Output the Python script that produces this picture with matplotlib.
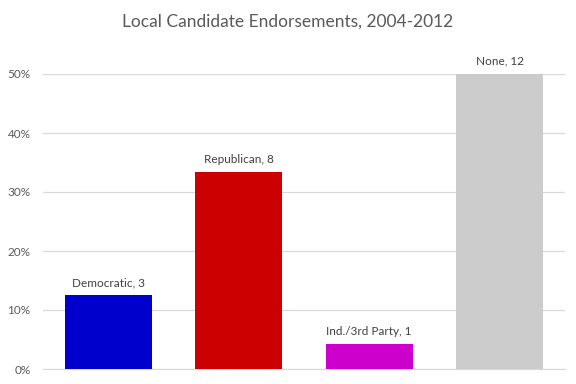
import matplotlib.pyplot as plt
from matplotlib.ticker import PercentFormatter

categories = ['Democratic', 'Republican', 'Ind./3rd Party', 'None']
counts = [3, 8, 1, 12]
colors = ['#0000CC', '#CC0000', '#CC00CC', '#CCCCCC']

total = sum(counts)
shares = [c / total for c in counts]

plt.rcParams['font.family'] = ['Lato', 'DejaVu Sans']

fig = plt.figure(figsize=(5.76, 3.84), dpi=100)
ax = fig.add_axes([43 / 576, 1 - 369 / 384, 522 / 576, 295 / 384])

x = range(len(categories))
ax.bar(x, shares, width=0.667, color=colors, zorder=3)

# data labels above bars
for i in x:
    ax.text(i, shares[i] + 0.012, f'{categories[i]}, {counts[i]}',
            ha='center', va='bottom', fontsize=8.5, color='#404040')

ax.set_xlim(-0.5, 3.5)
ax.set_ylim(0, 0.5)
ax.set_yticks([0, 0.1, 0.2, 0.3, 0.4, 0.5])
ax.yaxis.set_major_formatter(PercentFormatter(1.0, decimals=0))
ax.set_xticks([])
ax.grid(axis='y', color='#D9D9D9', linewidth=0.9, zorder=0)
ax.tick_params(axis='y', length=0, labelsize=8.5, labelcolor='#595959', pad=9)
for s in ['top', 'right', 'left']:
    ax.spines[s].set_visible(False)
ax.spines['bottom'].set_color('#D9D9D9')

fig.text(0.5, 1 - 22 / 384, 'Local Candidate Endorsements, 2004-2012',
         ha='center', va='center', fontsize=12.5, color='#595959')

fig.savefig('out.png', dpi=100)
